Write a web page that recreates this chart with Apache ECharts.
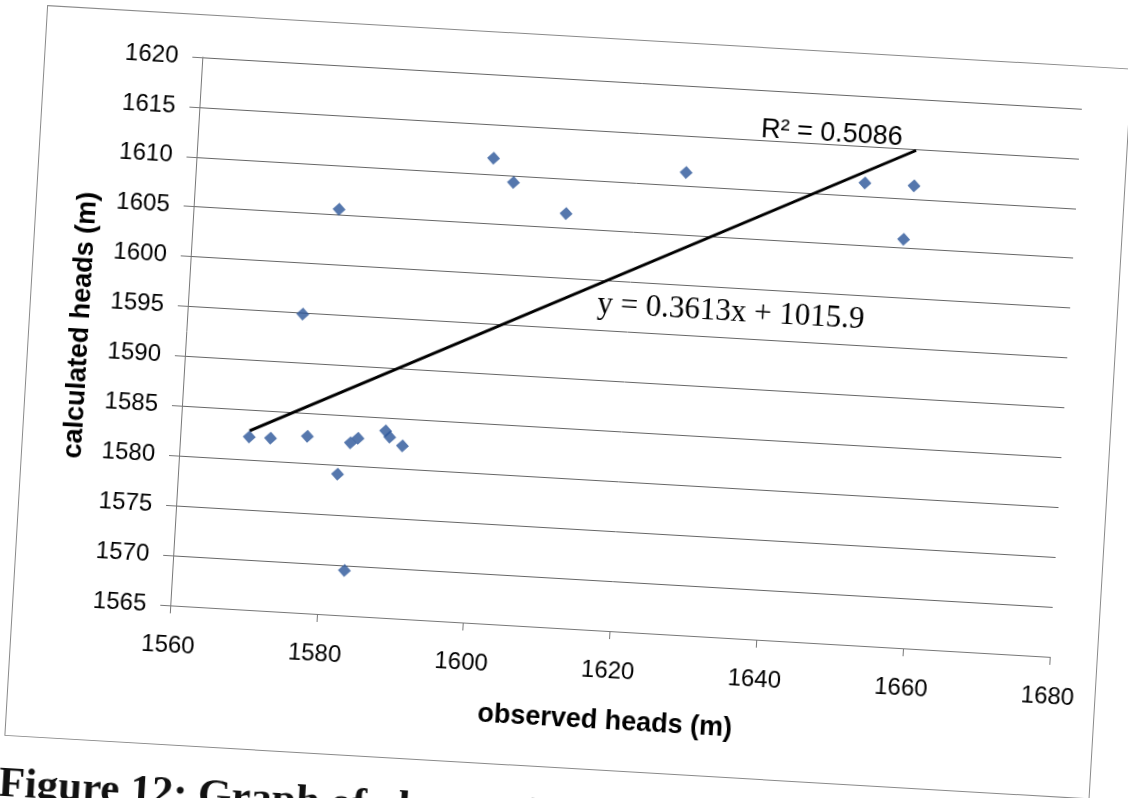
<!DOCTYPE html>
<html>
<head>
<meta charset="utf-8">
<script src="https://cdn.jsdelivr.net/npm/echarts@6/dist/echarts.min.js"></script>
<style>
  html, body { margin: 0; padding: 0; background: #fff; overflow: hidden; width: 1128px; height: 798px; }
  /* the printed page sits slightly tilted */
  #sheet { position: absolute; left: 0; top: 0; width: 1128px; height: 860px;
           transform-origin: 564px 399px; transform: rotate(3.35deg); }
  #frame { position: absolute; left: 25px; top: 36px; width: 1087px; height: 732px;
           border: 1px solid #8a8a8a; box-sizing: border-box; }
  #chart { position: absolute; left: 0; top: 0; width: 1128px; height: 860px; }
</style>
</head>
<body>
<div id="sheet">
  <div id="frame"></div>
  <div id="chart"></div>
</div>
<script>
// observed vs calculated hydraulic heads (m)
const observedHeads = [1569.4, 1572.3, 1577.3, 1581.7, 1583.4, 1583.2, 1584.2, 1587.9, 1588.5, 1590.3,
                       1600.4, 1603.3, 1579.8, 1610.7, 1575.7, 1626.7, 1651.1, 1657.8, 1656.8];
const calculatedHeads = [1582.3, 1582.3, 1582.7, 1579.1, 1569.5, 1582.3, 1582.8, 1583.7, 1583.1, 1582.3,
                         1611.6, 1609.3, 1605.6, 1606.5, 1594.9, 1611.3, 1611.3, 1611.3, 1605.9];

// linear trend line and its fit statistics
const trendSlope = 0.3613;
const trendIntercept = 1015.9;
const rSquared = '0.5086';

// axis ranges
const xRange = { min: 1560, max: 1680, step: 20 };
const yRange = { min: 1565, max: 1620, step: 5 };

const captionText = 'Figure 12: Graph of observed heads';

const points = observedHeads.map((x, i) => [x, calculatedHeads[i]]);
const xLo = Math.min(...observedHeads);
const xHi = Math.max(...observedHeads);
const trendLine = [xLo, xHi].map(x => [x, trendSlope * x + trendIntercept]);

const sans = "'Liberation Sans', Arial, sans-serif";
const serif = "'Liberation Serif', 'Times New Roman', serif";
const plain = v => String(v);

const chart = echarts.init(document.getElementById('chart'), null, { renderer: 'canvas' });

chart.setOption({
  animation: false,
  backgroundColor: 'transparent',
  title: {
    text: captionText,
    left: 22, top: 795, padding: 0,
    textStyle: { fontFamily: serif, fontWeight: 'bold', fontSize: 43, color: '#111' }
  },
  grid: { left: 183, top: 79, width: 881, height: 549, containLabel: false },
  xAxis: {
    type: 'value',
    min: xRange.min, max: xRange.max, interval: xRange.step,
    name: 'observed heads (m)',
    nameLocation: 'middle', nameGap: 77,
    nameTextStyle: { fontFamily: sans, fontWeight: 'bold', fontSize: 27, color: '#000' },
    axisLine: { show: true, onZero: false, lineStyle: { color: '#777', width: 1 } },
    axisTick: { show: true, inside: false, length: 8, lineStyle: { color: '#777' } },
    axisLabel: { margin: 28, fontFamily: sans, fontSize: 24, color: '#000', formatter: plain },
    splitLine: { show: false }
  },
  yAxis: {
    type: 'value',
    min: yRange.min, max: yRange.max, interval: yRange.step,
    name: 'calculated heads (m)',
    nameLocation: 'middle', nameGap: 92, nameRotate: 90,
    nameTextStyle: { fontFamily: sans, fontWeight: 'bold', fontSize: 27, color: '#000' },
    axisLine: { show: true, onZero: false, lineStyle: { color: '#777', width: 1 } },
    axisTick: { show: true, inside: false, length: 10, lineStyle: { color: '#777' } },
    axisLabel: { margin: 24, fontFamily: sans, fontSize: 24, color: '#000', formatter: plain },
    splitLine: { show: true, lineStyle: { color: '#666', width: 1 } }
  },
  series: [
    {
      name: 'heads',
      type: 'scatter',
      data: points,
      symbol: 'diamond',
      symbolSize: 13,
      itemStyle: { color: '#2a5599' },
      z: 3
    },
    {
      name: 'trend',
      type: 'line',
      data: trendLine,
      showSymbol: false,
      symbol: 'none',
      lineStyle: { color: '#000', width: 3 },
      z: 2
    }
  ]
});

// trend line annotations, anchored in data space
const r2At = chart.convertToPixel({ gridIndex: 0 }, [1646.2, 1616.0]);
const eqAt = chart.convertToPixel({ gridIndex: 0 }, [1633.9, 1597.6]);

chart.setOption({
  graphic: [
    {
      type: 'text', x: r2At[0], y: r2At[1], z: 10,
      style: {
        text: 'R\u00B2 = ' + rSquared,
        fontFamily: sans, fontSize: 27, fill: '#000',
        align: 'center', verticalAlign: 'middle'
      }
    },
    {
      type: 'text', x: eqAt[0], y: eqAt[1], z: 10,
      style: {
        text: 'y = ' + trendSlope + 'x + ' + trendIntercept,
        fontFamily: serif, fontSize: 31, fill: '#000',
        align: 'center', verticalAlign: 'middle'
      }
    }
  ]
});
</script>
</body>
</html>
